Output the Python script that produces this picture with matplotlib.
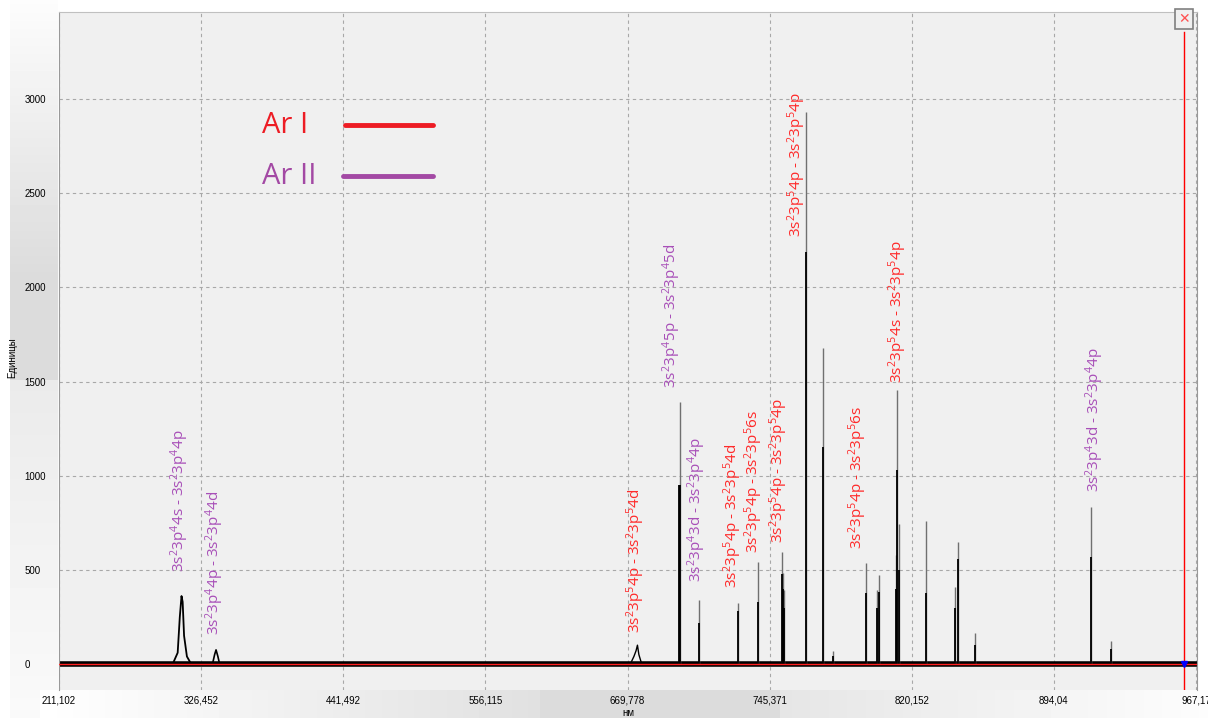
import matplotlib
matplotlib.use('Agg')
import matplotlib.pyplot as plt
import numpy as np

plt.rcParams['font.family'] = ['Open Sans', 'DejaVu Sans']

# Axis is in spectrometer channels, ticks labelled with wavelength (nm)
tick_pos = [0, 1, 2, 3, 4, 5, 6, 7, 8]
tick_labels = ['211,102', '326,452', '441,492', '556,115', '669,778',
               '745,371', '820,152', '894,04', '967,17']
y_ticks = [0, 500, 1000, 1500, 2000, 2500, 3000]

# Emission lines: position (tick units), full height, core (dark) height
line_pos = [4.362, 4.369, 4.503, 4.777, 4.918, 5.087, 5.094, 5.101, 5.256,
            5.376, 5.446, 5.678, 5.756, 5.770, 5.889, 5.896, 5.910, 6.100,
            6.304, 6.325, 6.445, 7.261, 7.402]
line_height = [950, 1391, 340, 324, 541, 595, 483, 393, 2930,
               1678, 70, 534, 393, 473, 579, 1457, 743, 760,
               409, 648, 165, 834, 122]
line_core = [950, 950, 220, 280, 330, 480, 400, 300, 2190,
             1152, 40, 377, 300, 380, 400, 1030, 500, 377,
             300, 560, 100, 568, 80]

# Broad bumps: x, y outline points
bump1_x = [0.80, 0.835, 0.850, 0.862, 0.870, 0.880, 0.900, 0.930]
bump1_y = [0, 60, 250, 361, 330, 150, 40, 0]
bump2_x = [1.08, 1.095, 1.105, 1.118, 1.13]
bump2_y = [0, 50, 75, 40, 0]
bump3_x = [4.02, 4.045, 4.06, 4.07, 4.08, 4.10]
bump3_y = [0, 40, 70, 100, 50, 0]

# Transition labels: x, y (bottom of text), series, lower level, upper level
labels = [
    (0.851, 489, 'II', '3s^{2}3p^{4}4s', '3s^{2}3p^{4}4p'),
    (1.098, 154, 'II', '3s^{2}3p^{4}4p', '3s^{2}3p^{4}4d'),
    (4.060, 165, 'I', '3s^{2}3p^{5}4p', '3s^{2}3p^{5}4d'),
    (4.313, 1466, 'II', '3s^{2}3p^{4}5p', '3s^{2}3p^{4}5d'),
    (4.489, 435, 'II', '3s^{2}3p^{4}3d', '3s^{2}3p^{4}4p'),
    (4.742, 404, 'I', '3s^{2}3p^{5}4p', '3s^{2}3p^{5}4d'),
    (4.890, 589, 'I', '3s^{2}3p^{5}4p', '3s^{2}3p^{5}6s'),
    (5.066, 643, 'I', '3s^{2}3p^{5}4p', '3s^{2}3p^{5}4p'),
    (5.193, 2268, 'I', '3s^{2}3p^{5}4p', '3s^{2}3p^{5}4p'),
    (5.622, 611, 'I', '3s^{2}3p^{5}4p', '3s^{2}3p^{5}6s'),
    (5.903, 1492, 'I', '3s^{2}3p^{5}4s', '3s^{2}3p^{5}4p'),
    (7.289, 913, 'II', '3s^{2}3p^{4}3d', '3s^{2}3p^{4}4p'),
]

red = '#ed1c24'
purple = '#a349a4'
colors = {'I': '#ff2a2a', 'II': '#a84fb8'}

fig = plt.figure(figsize=(12.08, 7.18), dpi=100, facecolor='white')

# side panels like the original software window
lp = fig.add_axes([10 / 1208, 0, 48 / 1208, 1])
grad = np.concatenate([np.linspace(0.99, 0.86, 280), np.full(100, 0.86),
                       np.linspace(0.92, 0.98, 338)])
lp.imshow(grad[:, None], cmap='gray', vmin=0, vmax=1, aspect='auto')
lp.axis('off')
bp = fig.add_axes([40 / 1208, 0, 1168 / 1208, 28 / 718])
hgrad = np.concatenate([np.linspace(1.0, 0.88, 500), np.full(240, 0.86),
                        np.linspace(0.9, 0.99, 428)])
bp.imshow(hgrad[None, :], cmap='gray', vmin=0, vmax=1, aspect='auto')
bp.axis('off')

ax = fig.add_axes([59 / 1208, 28 / 718, 1138 / 1208, 678 / 718])
ax.set_facecolor('#f0f0f0')
ax.set_xlim(0, 8.007)
ax.set_ylim(-138, 3462)

ax.grid(True, color='#a8a8a8', linestyle=(0, (3, 3)), linewidth=0.8)
ax.set_axisbelow(True)
for side in ['left', 'right']:
    ax.spines[side].set_color('#999999')
    ax.spines[side].set_linestyle((0, (1, 1)))
ax.spines['top'].set_color('#c0c0c0')
ax.spines['bottom'].set_visible(False)

# noisy baseline band + red zero line
ax.axhline(0, color='black', linewidth=4, zorder=2)
ax.plot(bump1_x, bump1_y, color='black', linewidth=1.3, zorder=3)
ax.plot(bump2_x, bump2_y, color='black', linewidth=1.2, zorder=3)
ax.plot(bump3_x, bump3_y, color='black', linewidth=1.0, zorder=3)
ax.vlines(line_pos, 0, line_height, color='#707070', linewidth=1.0, zorder=3)
ax.vlines(line_pos, 0, line_core, color='black', linewidth=1.3, zorder=3)
ax.axhline(0, color='#ff2020', linewidth=1.0, zorder=4)

for x, y, s, lo, up in labels:
    txt = r'$\mathregular{' + lo + '}$ - $\mathregular{' + up + '}$'
    ax.text(x, y, txt, rotation=90, ha='center', va='bottom',
            fontsize=11, color=colors[s], zorder=5)

# cursor line with close box
ax.axvline(7.916, ymax=0.97, color='red', linewidth=1.0, zorder=5)
ax.plot([7.916], [0], marker='v', color='blue', markersize=5, zorder=6)
ax.text(7.916, 3462, '✕', ha='center', va='top', fontsize=10, color='#ff5050',
        family='DejaVu Sans',
        bbox=dict(boxstyle='square,pad=0.2', facecolor='#f0f0f0',
                  edgecolor='#808080', linewidth=1.2), zorder=6)

# legend drawn by hand (text left, line right)
ax.text(0.1784, 0.833, 'Ar I', transform=ax.transAxes, fontsize=21,
        color=red, va='center', ha='left')
ax.text(0.1784, 0.758, 'Ar II', transform=ax.transAxes, fontsize=21,
        color=purple, va='center', ha='left')
ax.plot([0.2513, 0.3286], [0.833, 0.833], transform=ax.transAxes,
        color=red, linewidth=3.5, solid_capstyle='round')
ax.plot([0.2495, 0.3286], [0.758, 0.758], transform=ax.transAxes,
        color=purple, linewidth=3.5, solid_capstyle='round')

ax.set_xticks(tick_pos)
ax.set_xticklabels(tick_labels, fontsize=7, family='Liberation Sans')
ax.set_yticks(y_ticks)
ax.set_yticklabels([str(v) for v in y_ticks], fontsize=7, family='Liberation Sans')
ax.tick_params(axis='both', length=0)
ax.tick_params(axis='y', pad=25)
ax.tick_params(axis='x', pad=4)
for lab in ax.get_yticklabels():
    lab.set_horizontalalignment('left')
ax.set_xlabel('нм', fontsize=7, family='Liberation Sans', labelpad=2)
ax.set_ylabel('Единицы', fontsize=7, family='Liberation Sans')
ax.yaxis.set_label_coords(-0.0369, 0.49)

fig.savefig('out.png', dpi=100)
